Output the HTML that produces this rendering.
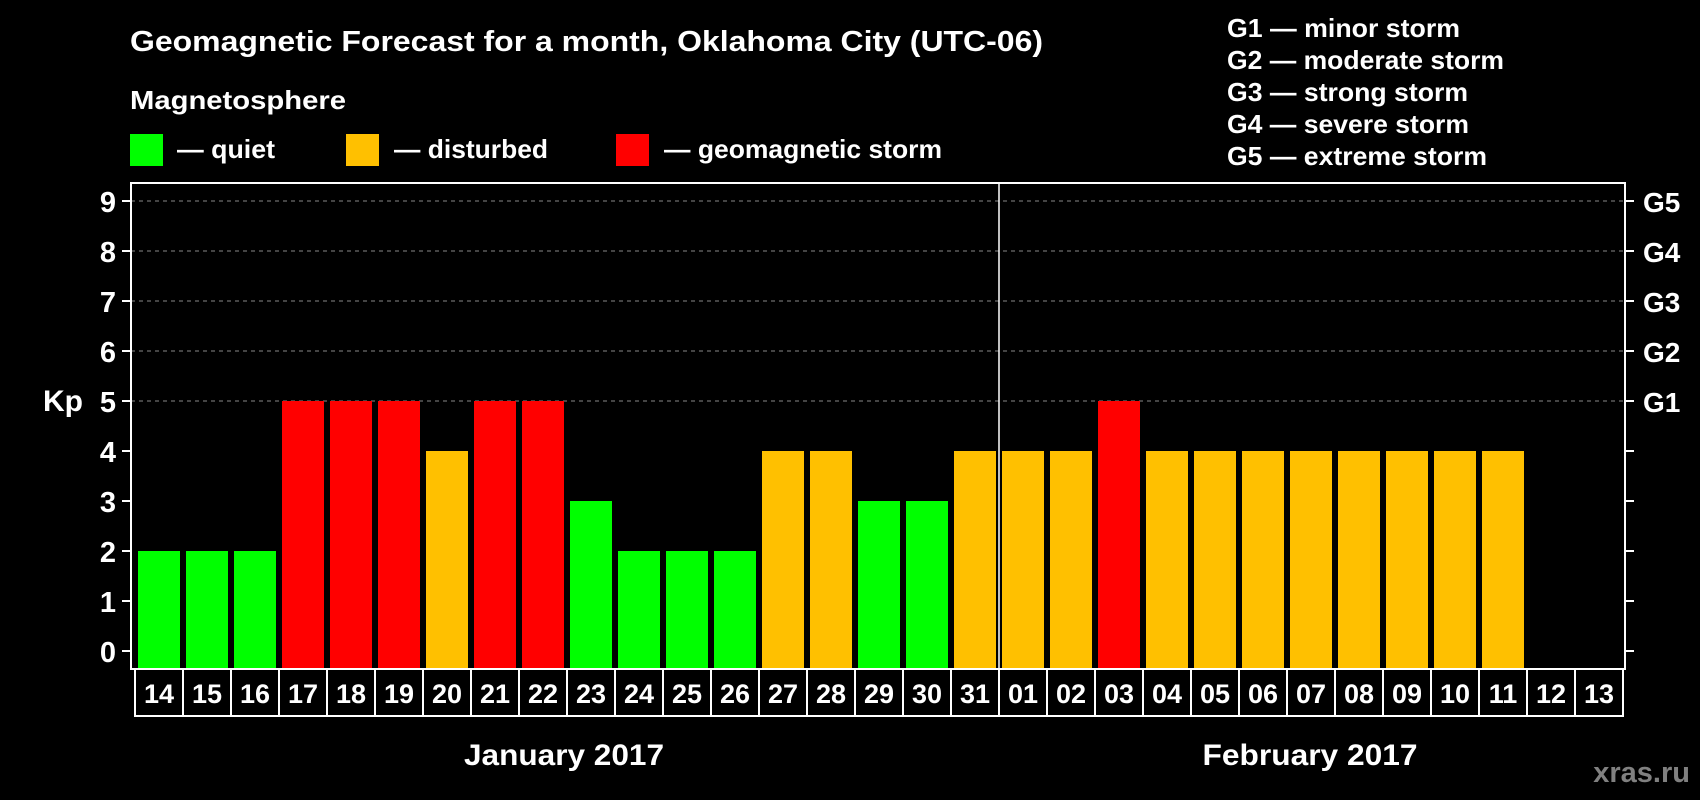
<!DOCTYPE html>
<html><head><meta charset="utf-8"><style>
body{margin:0;background:#000;width:1700px;height:800px;overflow:hidden}
svg{display:block;font-family:"Liberation Sans",Arial,sans-serif;font-weight:bold}
</style></head><body>
<svg id="c" width="1700" height="800">
<text x="130" y="51" fill="#fff" font-size="29" textLength="913" lengthAdjust="spacingAndGlyphs">Geomagnetic Forecast for a month, Oklahoma City (UTC-06)</text>
<text x="130" y="109" fill="#fff" font-size="26" textLength="216" lengthAdjust="spacingAndGlyphs">Magnetosphere</text>
<rect x="130" y="134" width="33" height="32" fill="#00ff00"/>
<text x="177" y="158" fill="#fff" font-size="26" textLength="98" lengthAdjust="spacingAndGlyphs">— quiet</text>
<rect x="346" y="134" width="33" height="32" fill="#ffc000"/>
<text x="394" y="158" fill="#fff" font-size="26" textLength="154" lengthAdjust="spacingAndGlyphs">— disturbed</text>
<rect x="616" y="134" width="33" height="32" fill="#ff0000"/>
<text x="664" y="158" fill="#fff" font-size="26" textLength="278" lengthAdjust="spacingAndGlyphs">— geomagnetic storm</text>
<g font-size="26" fill="#fff">
<text x="1227" y="37" textLength="233" lengthAdjust="spacingAndGlyphs">G1 — minor storm</text>
<text x="1227" y="69" textLength="277" lengthAdjust="spacingAndGlyphs">G2 — moderate storm</text>
<text x="1227" y="101" textLength="241" lengthAdjust="spacingAndGlyphs">G3 — strong storm</text>
<text x="1227" y="133" textLength="242" lengthAdjust="spacingAndGlyphs">G4 — severe storm</text>
<text x="1227" y="165" textLength="260" lengthAdjust="spacingAndGlyphs">G5 — extreme storm</text>
</g>
<text x="43" y="411" fill="#fff" font-size="30">Kp</text>
<text x="564" y="765" fill="#fff" font-size="30" text-anchor="middle" textLength="200" lengthAdjust="spacingAndGlyphs">January 2017</text>
<text x="1310" y="765" fill="#fff" font-size="30" text-anchor="middle" textLength="215" lengthAdjust="spacingAndGlyphs">February 2017</text>
<text x="1690" y="782" fill="#808080" font-size="29" text-anchor="end">xras.ru</text>
</svg>
<script>
const days=["14","15","16","17","18","19","20","21","22","23","24","25","26","27","28","29","30","31","01","02","03","04","05","06","07","08","09","10","11","12","13"];
const kp=[2,2,2,5,5,5,4,5,5,3,2,2,2,4,4,3,3,4,4,4,5,4,4,4,4,4,4,4,4,null,null];
const yTicks=[0,1,2,3,4,5,6,7,8,9];
const gLabels=["G1","G2","G3","G4","G5"];
const svg=document.getElementById('c');
const NS="http://www.w3.org/2000/svg";
const X0=135,STEP=48,Y0=651,UNIT=50;
const xs=i=>X0+STEP*i;
const ys=v=>Y0-UNIT*v;
function mk(t,a,p){const e=document.createElementNS(NS,t);for(const k in a)e.setAttribute(k,a[k]);(p||svg).appendChild(e);return e;}
yTicks.forEach(v=>{
  if(v>=5){const g=mk('line',{x1:131,x2:1625,y1:ys(v),y2:ys(v),stroke:'#888','stroke-width':1,'stroke-dasharray':'4,4'});
  
  }
  const t1=mk('line',{x1:122,x2:131,y1:ys(v),y2:ys(v),stroke:'#fff','stroke-width':2});
  
  
  const t2=mk('line',{x1:1625,x2:1634,y1:ys(v),y2:ys(v),stroke:'#fff','stroke-width':2});
  
  
  const l=mk('text',{x:116,y:ys(v)+11,fill:'#fff','font-size':29,'text-anchor':'end'});
  l.textContent=v;
  
  
});
gLabels.forEach((g,i)=>{
  const l=mk('text',{x:1643,y:ys(5+i)+11,fill:'#fff','font-size':28});
  l.textContent=g;
  
  
});
kp.forEach((v,i)=>{
  if(v==null)return;
  const col=v>=5?'#ff0000':v>=4?'#ffc000':'#00ff00';
  const b=mk('rect',{x:xs(i)+3,y:ys(v),width:42,height:668-ys(v),fill:col});
  
  
});
const f=mk('rect',{x:131,y:183,width:1494,height:486,fill:'none',stroke:'#fff','stroke-width':2});


const d=mk('line',{x1:xs(18),x2:xs(18),y1:183,y2:669,stroke:'#fff','stroke-width':1.5});


days.forEach((dd,i)=>{
  const r=mk('rect',{x:xs(i),y:669,width:STEP,height:47,fill:'#000',stroke:'#fff','stroke-width':2});
  
  
  const t=mk('text',{x:xs(i)+STEP/2,y:703,fill:'#fff','font-size':27,'text-anchor':'middle'});
  t.textContent=dd;
  
  
});
</script>
</body></html>
